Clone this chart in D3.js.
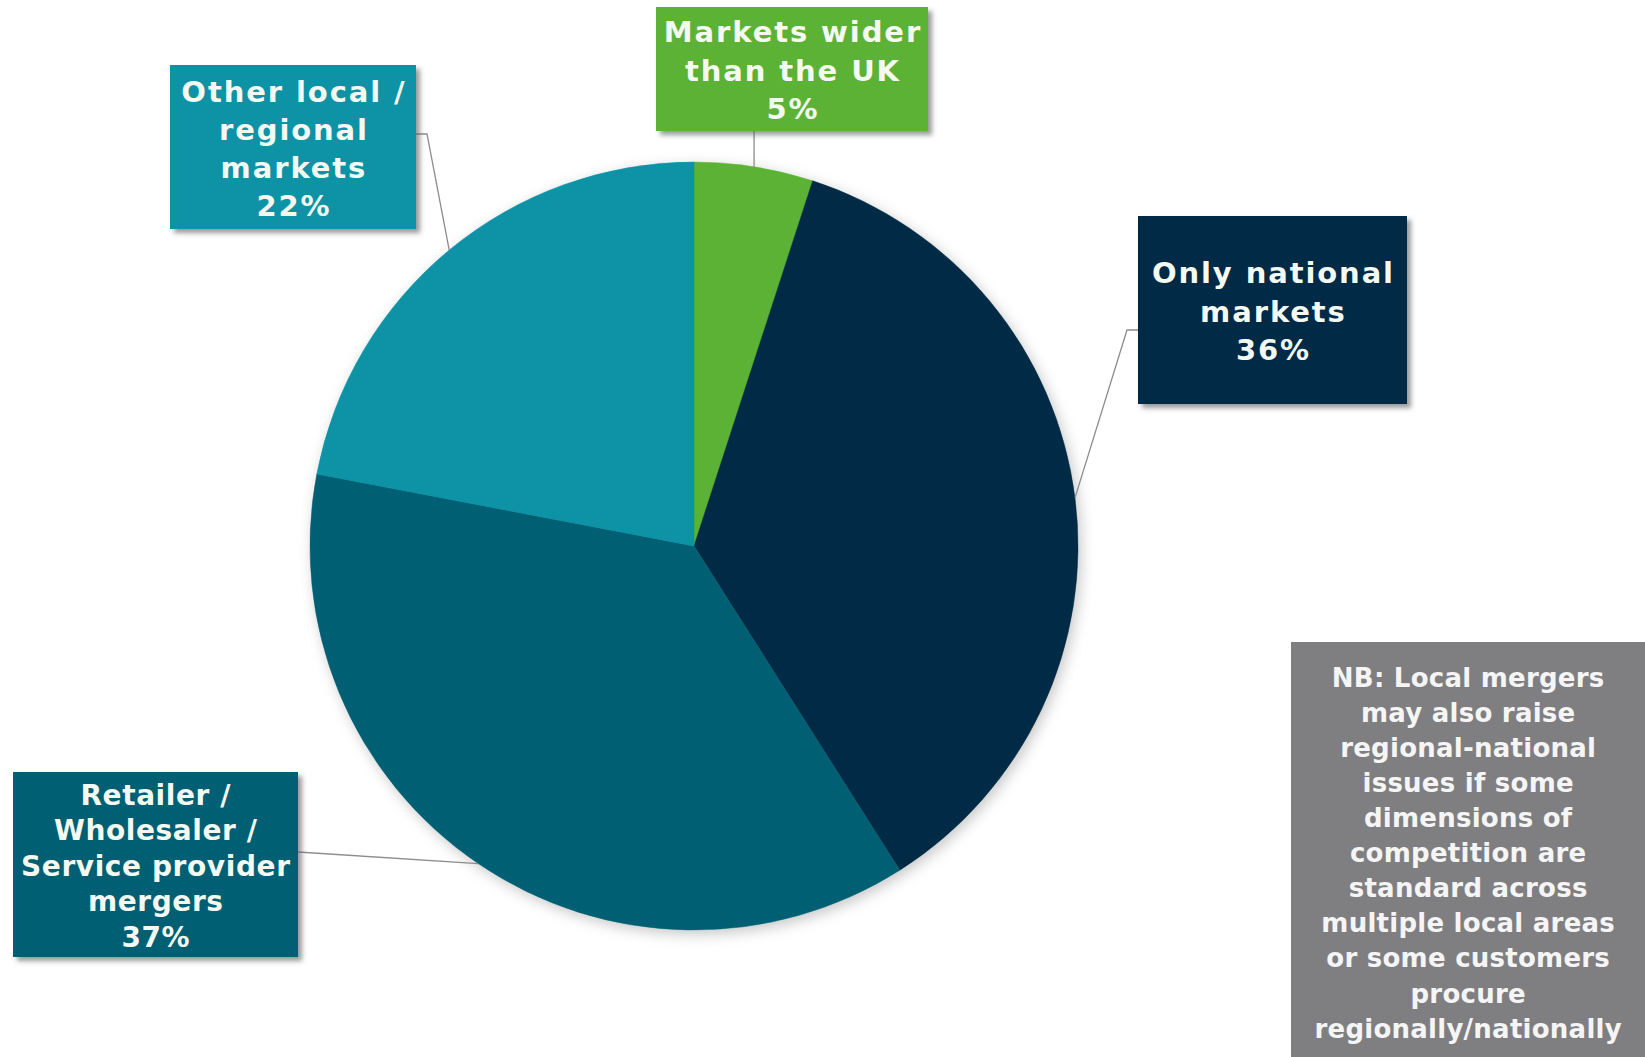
<!DOCTYPE html>
<html>
<head>
<meta charset="utf-8">
<script src="https://cdn.jsdelivr.net/npm/d3@7"></script>
<style>
  html, body { margin: 0; padding: 0; background: #ffffff; }
  svg { display: block; }
  text { font-family: "DejaVu Sans", Verdana, sans-serif; font-weight: bold; }
</style>
</head>
<body>
<div id="chart"></div>
<script>
    'use strict';

    /* data */

    var categories = [
        'Markets wider than the UK',
        'Only national markets',
        'Retailer / Wholesaler / Service provider mergers',
        'Other local / regional markets'
    ];
    var shares = [5, 36, 37, 22];
    var labelLines = [
        ['Markets wider', 'than the UK', '5%'],
        ['Only national', 'markets', '36%'],
        ['Retailer /', 'Wholesaler /', 'Service provider', 'mergers', '37%'],
        ['Other local /', 'regional', 'markets', '22%']
    ];
    var colours = ['#5cb236', '#022c44', '#035f73', '#0893a5'];
    var noteLines = [
        'NB: Local mergers', 'may also raise', 'regional-national', 'issues if some',
        'dimensions of', 'competition are', 'standard across', 'multiple local areas',
        'or some customers', 'procure', 'regionally/nationally'
    ];

    /* layout */

    var width = 1645, height = 1057;
    var cx = 694, cy = 546, radius = 384;

    // label boxes: x, y, w, h, font size, letter spacing, line step, leader elbow
    var boxes = [
        { x: 656, y: 7, w: 272, h: 124, size: 29, ls: 1.9, step: 38.5, anchor: 'bottom' },
        { x: 1138, y: 216, w: 269, h: 188, size: 29, ls: 1.9, step: 38.5, anchor: 'left', ey: 330, ex: 1127 },
        { x: 13, y: 772, w: 285, h: 185, size: 28, ls: 0.6, step: 35.5, anchor: 'right', ey: 852 },
        { x: 170, y: 65, w: 246, h: 164, size: 29, ls: 1.9, step: 38, anchor: 'right', ey: 134, ex: 427 }
    ];

    var svg = d3.select('#chart').append('svg')
        .attr('width', width)
        .attr('height', height);

    var defs = svg.append('defs');

    defs.append('filter')
        .attr('id', 'boxShadow')
        .attr('x', '-10%').attr('y', '-10%')
        .attr('width', '130%').attr('height', '130%')
        .append('feDropShadow')
        .attr('dx', 4).attr('dy', 4)
        .attr('stdDeviation', 2.5)
        .attr('flood-color', '#555')
        .attr('flood-opacity', 0.6);

    defs.append('filter')
        .attr('id', 'pieShadow')
        .attr('x', '-10%').attr('y', '-10%')
        .attr('width', '130%').attr('height', '130%')
        .append('feDropShadow')
        .attr('dx', 3).attr('dy', 4)
        .attr('stdDeviation', 7)
        .attr('flood-color', '#000')
        .attr('flood-opacity', 0.22);

    /* pie */

    var pie = d3.pie().sort(null).value(function (d) { return d; });
    var arcs = pie(shares);

    var arc = d3.arc().innerRadius(0).outerRadius(radius);
    var edgeArc = d3.arc().innerRadius(radius).outerRadius(radius);

    var pieGroup = svg.append('g')
        .attr('transform', 'translate(' + cx + ',' + cy + ')')
        .attr('filter', 'url(#pieShadow)');

    pieGroup.selectAll('path')
        .data(arcs)
        .enter()
        .append('path')
        .attr('d', arc)
        .attr('fill', function (d, i) { return colours[i]; })
        .attr('stroke', function (d, i) { return colours[i]; })
        .attr('stroke-width', 0.5)
        .append('title')
        .text(function (d, i) { return categories[i] + ': ' + d.value + '%'; });

    /* leader lines */

    var leaders = svg.append('g')
        .attr('fill', 'none')
        .attr('stroke', '#8c8c8c')
        .attr('stroke-width', 1.3);

    arcs.forEach(function (d, i) {
        var b = boxes[i];
        var p = edgeArc.centroid(d);
        var px = cx + p[0], py = cy + p[1];
        var pts;
        if (b.anchor === 'bottom') {
            pts = [[px, b.y + b.h], [px, py]];
        } else if (b.anchor === 'left') {
            pts = [[b.x, b.ey], [b.ex, b.ey], [px, py]];
        } else if (b.ex) {
            pts = [[b.x + b.w, b.ey], [b.ex, b.ey], [px, py]];
        } else {
            pts = [[b.x + b.w, b.ey], [px, py]];
        }
        leaders.append('path').attr('d', d3.line()(pts));
    });

    /* label boxes */

    var labels = svg.selectAll('g.label')
        .data(arcs)
        .enter()
        .append('g')
        .attr('class', 'label');

    labels.append('rect')
        .attr('x', function (d, i) { return boxes[i].x; })
        .attr('y', function (d, i) { return boxes[i].y; })
        .attr('width', function (d, i) { return boxes[i].w; })
        .attr('height', function (d, i) { return boxes[i].h; })
        .attr('fill', function (d, i) { return colours[i]; })
        .attr('filter', 'url(#boxShadow)');

    labels.each(function (d, i) {
        var b = boxes[i];
        var lines = labelLines[i];
        var top = b.y + b.h / 2 - (lines.length - 1) * b.step / 2;
        d3.select(this).selectAll('text')
            .data(lines)
            .enter()
            .append('text')
            .attr('x', b.x + b.w / 2 + b.ls / 2) // trailing letter spacing
            .attr('y', function (t, j) { return top + j * b.step; })
            .attr('dy', '0.4em')
            .attr('text-anchor', 'middle')
            .attr('font-size', b.size)
            .attr('letter-spacing', b.ls)
            .attr('fill', '#f4f9f2')
            .text(function (t) { return t; });
    });

    /* note box */

    var note = svg.append('g');
    note.append('rect')
        .attr('x', 1291).attr('y', 642)
        .attr('width', 360).attr('height', 420)
        .attr('fill', '#7f7f81');

    note.selectAll('text')
        .data(noteLines)
        .enter()
        .append('text')
        .attr('x', 1468.2)
        .attr('y', function (t, i) { return 677 + i * 35.1; })
        .attr('dy', '0.37em')
        .attr('text-anchor', 'middle')
        .attr('font-size', 26)
        .attr('letter-spacing', 0.25)
        .attr('fill', '#f5f5f5')
        .text(function (t) { return t; });
</script>
</body>
</html>
